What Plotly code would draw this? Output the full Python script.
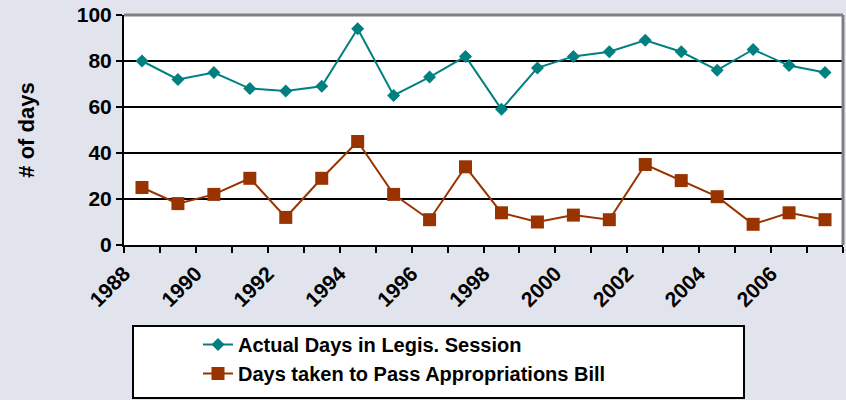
import plotly.graph_objects as go

years = list(range(1988, 2008))
session_days = [80, 72, 75, 68, 67, 69, 94, 65, 73, 82, 59, 77, 82, 84, 89, 84, 76, 85, 78, 75]
approp_days = [25, 18, 22, 29, 12, 29, 45, 22, 11, 34, 14, 10, 13, 11, 35, 28, 21, 9, 14, 11]
tick_years = list(range(1988, 2009))
tick_text = [str(y) if (y % 2 == 0 and y < 2008) else "" for y in tick_years]
y_ticks = [0, 20, 40, 60, 80, 100]

FONT = "Liberation Sans, Arial, sans-serif"
BG = "#E1E4EC"
TEAL = "#008080"
RUST = "#993300"

xpos = [y + 0.5 for y in years]

fig = go.Figure()
fig.add_trace(go.Scatter(
    x=xpos, y=session_days, mode="lines+markers",
    name="Actual Days in Legis. Session",
    line=dict(color=TEAL, width=2),
    marker=dict(symbol="diamond", size=10, color=TEAL),
))
fig.add_trace(go.Scatter(
    x=xpos, y=approp_days, mode="lines+markers",
    name="Days taken to Pass Appropriations Bill",
    line=dict(color=RUST, width=2),
    marker=dict(symbol="square", size=13, color=RUST),
))

L, R, T, B = 124, 3, 15, 155
W, H = 846, 400
pw = W - L - R
ph = H - T - B

def px(x):
    return (x - L) / pw

def py(y):
    return (H - B - y) / ph

fig.update_layout(
    width=W, height=H,
    margin=dict(l=L, r=R, t=T, b=B),
    paper_bgcolor=BG,
    plot_bgcolor="white",
    font=dict(family=FONT, size=20, color="black", weight="bold"),
    showlegend=True,
    legend=dict(
        x=px(198), y=py(325), xanchor="left", yanchor="top",
        bgcolor="rgba(0,0,0,0)", borderwidth=0,
        font=dict(family=FONT, size=20, color="black", weight="bold"),
        tracegroupgap=0,
    ),
    xaxis=dict(
        range=[1988, 2008], tickmode="array", tickvals=tick_years, ticktext=tick_text,
        tickangle=-45, ticks="outside", ticklen=6, tickwidth=2, tickcolor="black",
        showline=True, linecolor="black", linewidth=2, showgrid=False, zeroline=False,
        tickfont=dict(family=FONT, size=21, color="black", weight="bold"),
    ),
    yaxis=dict(
        range=[0, 100], tickmode="array", tickvals=y_ticks,
        ticks="outside", ticklen=6, tickwidth=2, tickcolor="black",
        showline=True, linecolor="black", linewidth=2,
        showgrid=True, gridcolor="black", gridwidth=2, zeroline=False,
        tickfont=dict(family=FONT, size=21, color="black", weight="bold"),
        title=dict(text="# of days", standoff=36,
                   font=dict(family=FONT, size=22, color="black", weight="bold")),
    ),
    shapes=[
        dict(type="line", xref="paper", yref="paper", x0=0, x1=1, y0=1, y1=1,
             line=dict(color="#808080", width=3), layer="above"),
        dict(type="line", xref="paper", yref="paper", x0=1, x1=1, y0=0, y1=1,
             line=dict(color="#808080", width=3), layer="above"),
        dict(type="rect", xref="paper", yref="paper",
             x0=px(133), x1=px(744), y0=py(398), y1=py(326),
             fillcolor="white", line=dict(color="black", width=2), layer="below"),
    ],
)

fig.write_html(
    "out.html",
    config={"displayModeBar": False},
    post_script="document.body.style.margin='0';document.body.style.background='%s';" % BG,
)
